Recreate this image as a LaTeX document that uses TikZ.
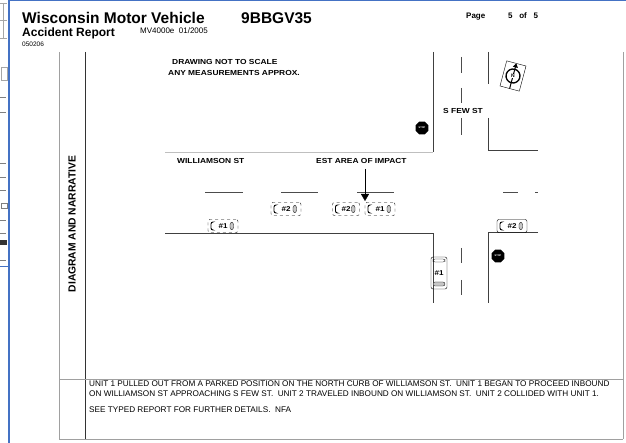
\documentclass[tikz,border=0pt]{standalone}
\usepackage{fontspec}
\setmainfont{Liberation Sans}
\newfontfamily\plotfont[FakeStretch=1.15]{Liberation Sans Bold}
\usetikzlibrary{shapes.geometric, arrows.meta, positioning}

\definecolor{frameblue}{RGB}{68,114,196}
\definecolor{rulegray}{RGB}{160,160,160}

\tikzset{
  car/.style={draw, dashed, rounded corners=2pt, minimum width=30pt, minimum height=13pt,
    inner sep=0pt, font=\fontsize{7}{7}\plotfont,
    path picture={
      \draw[solid, line width=0.9pt] ([xshift=4.5pt,yshift=-2.5pt]path picture bounding box.north west)
        -- ++(-1.5pt,0) -- ([xshift=3pt,yshift=2.5pt]path picture bounding box.south west) -- ++(1.5pt,0);
      \draw[solid, line width=0.3pt, fill=gray!45] ([xshift=-8pt,yshift=-3pt]path picture bounding box.north east)
        rectangle ([xshift=-4.5pt,yshift=3pt]path picture bounding box.south east);
    }},
  carsolid/.style={car, solid},
  carnorth/.style={draw, rounded corners=2pt, minimum width=16pt, minimum height=32pt,
    inner sep=0pt, font=\fontsize{7}{7}\plotfont,
    path picture={
      \draw[line width=0.3pt] ([xshift=2pt,yshift=-2pt]path picture bounding box.north west)
        rectangle ([xshift=-2pt,yshift=-5pt]path picture bounding box.north east);
      \draw[line width=0.3pt, fill=gray!45] ([xshift=2pt,yshift=7pt]path picture bounding box.south west)
        rectangle ([xshift=-2pt,yshift=3pt]path picture bounding box.south east);
    }},
  stopsign/.style={regular polygon, regular polygon sides=8, fill=black, text=white,
    minimum size=14pt, inner sep=0pt, font=\fontsize{2.5}{2.5}\selectfont\bfseries},
  streetlabel/.style={font=\fontsize{7.3}{8}\plotfont, inner sep=0pt, anchor=base west},
  curb/.style={draw=black!75, line width=0.6pt},
  centerline/.style={draw=black!70, line width=0.6pt},
}

\begin{document}
\begin{tikzpicture}[x=1pt, y=-1pt]
    \useasboundingbox (0,0) rectangle (626,443);

    % Window behind, cut off at the left
    \draw[gray!70] (0,3) -- (7,3) (3,3) -- (3,38) (0,20) -- (7,20) (0,38) -- (7,38);
    \draw[gray!70] (1,67) rectangle (7,80);
    \foreach \y in {97, 112, 163, 177, 190, 220, 233, 260}
        \draw[gray] (0,\y) -- (6,\y);
    \draw[gray] (1,203) rectangle (7,208);
    \fill[black!80] (0,240) rectangle (7,245);
    \draw[frameblue, line width=1pt] (0,267) -- (9,267);

    % Window frame
    \draw[frameblue, line width=2pt] (9,0) -- (9,443);
    \draw[frameblue, line width=1.5pt] (9,0.75) -- (626,0.75);

    % Header
    \node[anchor=base west, inner sep=0pt, font=\fontsize{15.5}{16}\selectfont\bfseries] (title) at (22,24) {Wisconsin Motor Vehicle};
    \node[anchor=base west, inner sep=0pt, font=\fontsize{15.5}{16}\selectfont\bfseries] (caseno) at (241,24) {9BBGV35};
    \node[anchor=base west, inner sep=0pt, font=\fontsize{12}{12}\selectfont\bfseries] (subtitle) at (22,37) {Accident Report};
    \node[anchor=base west, inner sep=0pt, font=\fontsize{8}{8}\selectfont] (form) at (140,34) {MV4000e\ \ 01/2005};
    \node[anchor=base west, inner sep=0pt, font=\fontsize{6.5}{7}\selectfont] (code) at (22,47) {050206};
    \node[anchor=base west, inner sep=0pt, font=\fontsize{8}{8}\selectfont\bfseries] (page) at (466,19) {Page};
    \node[anchor=base west, inner sep=0pt, font=\fontsize{8}{8}\selectfont\bfseries] (pageno) at (508,19) {5\ \ \ of\ \ \ 5};

    % Form rules
    \draw[rulegray, line width=1pt] (59,52) -- (59,439);
    \draw[black!80] (85,52) -- (85,439);
    \draw[rulegray, line width=1pt] (623,52) -- (623,439);
    \draw[rulegray] (59,379) -- (623,379);
    \draw[rulegray, line width=1pt] (59,439) -- (623,439);
    \node[rotate=90, inner sep=0pt, font=\fontsize{10.3}{10}\selectfont\bfseries] (section) at (72,224) {DIAGRAM AND NARRATIVE};

    % Notes
    \node[streetlabel] (note1) at (172,65) {DRAWING NOT TO SCALE};
    \node[streetlabel] (note2) at (168,76) {ANY MEASUREMENTS APPROX.};

    % Curbs
    \draw[curb] (433,52) -- (433,152);
    \draw[curb, draw=black!25] (165,152) -- (433,152);
    \draw[curb] (488,52) -- (488,84);
    \draw[curb] (488,118) -- (488,150) -- (538,150);
    \draw[curb] (165,233) -- (433,233) -- (433,303);
    \draw[curb] (538,232) -- (488,232) -- (488,303);

    % Center lines
    \foreach \xa/\xb in {205/243, 281/318, 357/394, 503/518, 535/538}
        \draw[centerline] (\xa,192) -- (\xb,192);
    \foreach \ya/\yb in {57/73, 88/103, 118/135, 248/263, 280/295}
        \draw[centerline] (461,\ya) -- (461,\yb);

    % Street names
    \node[streetlabel] (williamson) at (177,164) {WILLIAMSON ST};
    \node[streetlabel] (sfew) at (443,114) {S FEW ST};

    % Stop signs
    \node[stopsign] (stopnorth) at (422,128) {STOP};
    \node[stopsign] (stopsouth) at (498,256) {STOP};

    % Units
    \node[car] (unitone) at (223,226) {\#1};
    \node[car] (unittwo) at (286,209) {\#2};
    \node[car, minimum width=27pt] (unittwoimpact) at (346,209) {\#2};
    \node[car] (unitoneimpact) at (380,209) {\#1};
    \node[carsolid] (unittwoeast) at (512,226) {\#2};
    \node[carnorth] (unitonesouth) at (439,273) {\#1};

    % Area of impact
    \node[streetlabel] (impact) at (316,164) {EST AREA OF IMPACT};
    \coordinate (impactpt) at (365,201);
    \draw[-{Triangle[length=7pt,width=8pt]}] (impactpt |- 0,169) -- (impactpt);

    % North arrow
    \begin{scope}[shift={(513,76)}, rotate=-15]
        \draw (-10,-13) rectangle (10,13);
        \draw[line width=1.3pt] (0,0) circle (7);
        \draw[-{Triangle[length=4pt,width=5pt]}, line width=1pt] (0,13) -- (0,-13);
        \node[font=\fontsize{5}{5}\selectfont\bfseries, fill=white, inner sep=0.5pt] (north) at (0,0) {N};
    \end{scope}

    % Narrative
    \node[anchor=north west, align=left, inner sep=0pt, font=\fontsize{8.2}{9.5}\selectfont] (narrative) at (89,381)
        {UNIT 1 PULLED OUT FROM A PARKED POSITION ON THE NORTH CURB OF WILLIAMSON ST.\ \ UNIT 1 BEGAN TO PROCEED INBOUND\\
         ON WILLIAMSON ST APPROACHING S FEW ST.\ \ UNIT 2 TRAVELED INBOUND ON WILLIAMSON ST.\ \ UNIT 2 COLLIDED WITH UNIT 1.\\[7pt]
         SEE TYPED REPORT FOR FURTHER DETAILS.\ \ NFA};
\end{tikzpicture}
\end{document}
